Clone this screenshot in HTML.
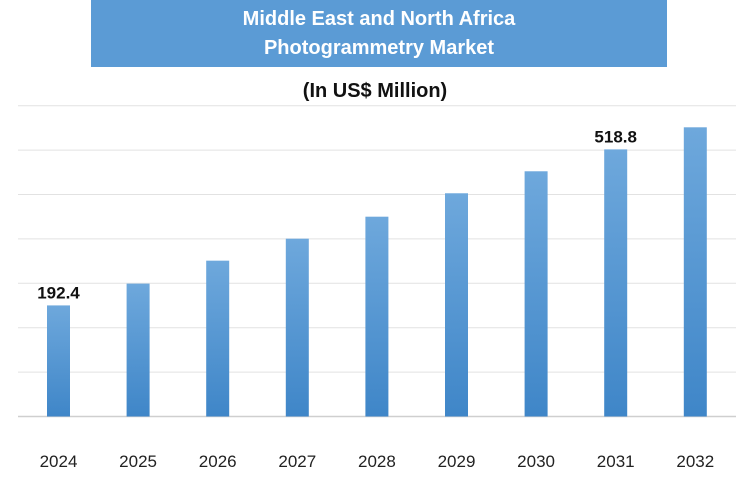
<!DOCTYPE html>
<html><head><meta charset="utf-8"><style>
body{margin:0;background:#fff;font-family:"Liberation Sans",sans-serif}
#c{position:relative;width:750px;height:500px;overflow:hidden}
</style></head><body>
<div id="c">
<svg width="750" height="500">
<defs><linearGradient id="g" x1="0" y1="0" x2="0" y2="1"><stop offset="0" stop-color="#6ea8dc"/><stop offset="1" stop-color="#3f86c8"/></linearGradient></defs>
<rect x="91" y="0" width="576" height="67" fill="#5b9bd5"/>
<text x="379" y="25" text-anchor="middle" fill="#fff" font-size="20" font-weight="bold">Middle East and North Africa</text>
<text x="379" y="54" text-anchor="middle" fill="#fff" font-size="20" font-weight="bold">Photogrammetry Market</text>
<text x="375" y="97" text-anchor="middle" fill="#111" font-size="20" font-weight="bold">(In US$ Million)</text>
<g id="grid"></g><g id="bars"></g><g id="labels"></g>
</svg></div>
<script>
const categories=["2024","2025","2026","2027","2028","2029","2030","2031","2032"];
const values=[192.4,238,286,332,378,427,473,518.8,565];
const valueLabels=["192.4","","","","","","","518.8",""];
const yMin=-40,pxPerUnit=1/2.092,base=416.5;
const y=v=>base-(v-yMin)*pxPerUnit;
const x=i=>58.5+i*79.6;
const ns="http://www.w3.org/2000/svg";
const grid=document.getElementById('grid'),bars=document.getElementById('bars'),labels=document.getElementById('labels');
for(let k=0;k<8;k++){const l=document.createElementNS(ns,'line');const yy=base-k*44.4;
l.setAttribute('x1',18);l.setAttribute('x2',736);l.setAttribute('y1',yy);l.setAttribute('y2',yy);
l.setAttribute('stroke',k==0?'#cfcfcf':'#e2e2e2');l.setAttribute('stroke-width',k==0?1.5:1);

grid.appendChild(l);}
categories.forEach((c,i)=>{
const r=document.createElementNS(ns,'rect');r.setAttribute('x',x(i)-11.5);r.setAttribute('width',23);
r.setAttribute('y',y(values[i]));r.setAttribute('height',base-y(values[i]));r.setAttribute('fill','url(#g)');

bars.appendChild(r);
const t=document.createElementNS(ns,'text');t.setAttribute('x',x(i));t.setAttribute('y',467);t.setAttribute('text-anchor','middle');
t.setAttribute('font-size','17');t.setAttribute('fill','#222');t.textContent=c;

labels.appendChild(t);
if(valueLabels[i]){const v=document.createElementNS(ns,'text');v.setAttribute('x',x(i));v.setAttribute('y',y(values[i])-7);
v.setAttribute('text-anchor','middle');v.setAttribute('font-size','17');v.setAttribute('font-weight','bold');v.setAttribute('fill','#111');
v.textContent=valueLabels[i];

labels.appendChild(v);}
});
</script>
</body></html>
